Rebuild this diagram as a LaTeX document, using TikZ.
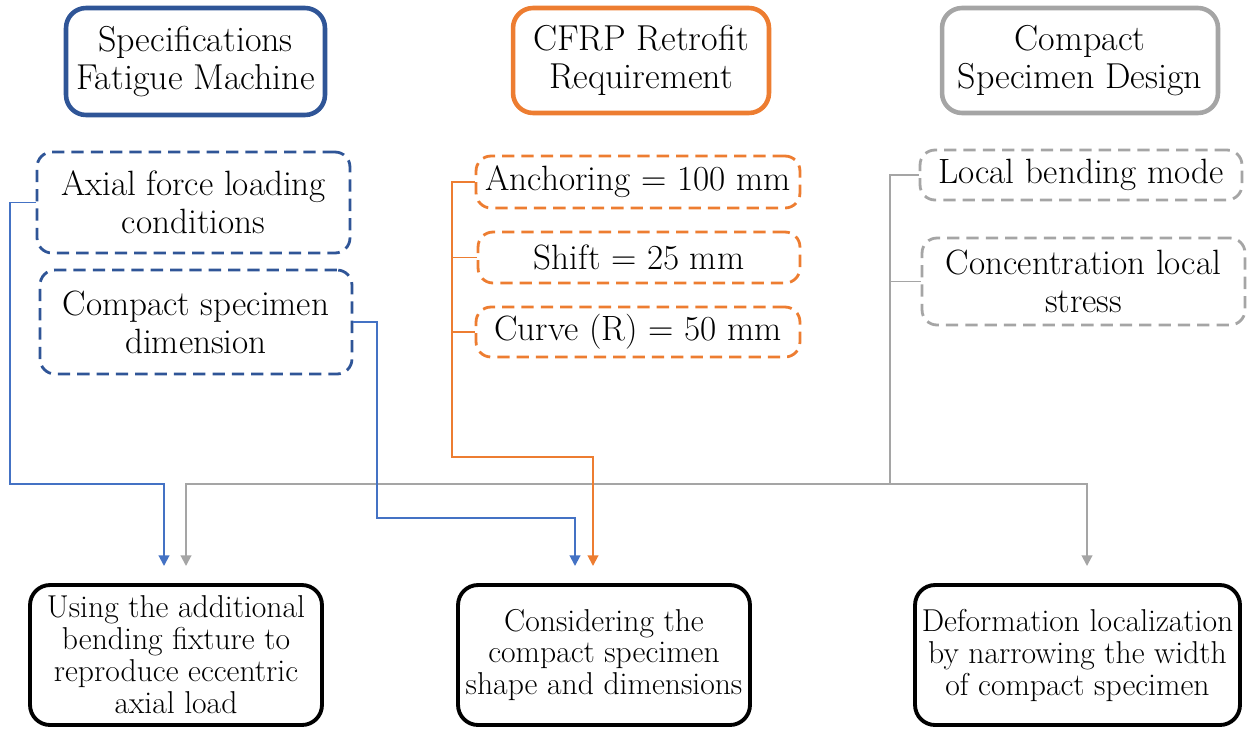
\documentclass[tikz,border=0pt]{standalone}
\usepackage{tikz}
\usetikzlibrary{positioning, calc, arrows.meta}

\definecolor{hdblue}{HTML}{2F5597}
\definecolor{wireblue}{HTML}{4472C4}
\definecolor{cfrporange}{HTML}{ED7D31}
\definecolor{specgray}{HTML}{A5A5A5}

\tikzset{
    header/.style={draw, rounded corners=0.4cm, line width=2.6pt, align=center,
        font=\fontsize{20.5}{21.6}\selectfont, inner sep=0pt},
    reqbox/.style={draw, dash pattern=on 7pt off 4pt, rounded corners=0.3cm,
        line width=1.6pt, align=center, font=\fontsize{20}{21.6}\selectfont, inner sep=0pt},
    outcome/.style={draw=black, rounded corners=0.4cm, line width=2.2pt, align=center,
        font=\fontsize{18}{18.2}\selectfont, inner sep=0pt,
        minimum height=2.8cm},
    wire/.style={line width=1.1pt},
    tip/.style={-{Triangle[width=6pt,length=6pt]}}
}

\begin{document}
\begin{tikzpicture}[x=0.02cm, y=-0.02cm]
    \useasboundingbox (0,0) rectangle (1256,731);

    % headers
    \node[header, draw=hdblue, minimum width=5.18cm, minimum height=2.14cm]
        (machine) at (195.5,61.5) {Specifications\\Fatigue Machine};
    \node[header, draw=cfrporange, minimum width=5.12cm, minimum height=2.1cm]
        (retrofit) at (641,60.5) {CFRP Retrofit\\Requirement};
    \node[header, draw=specgray, minimum width=5.52cm, minimum height=2.1cm]
        (design) at (1080,60.5) {Compact\\Specimen Design};

    % machine requirements
    \node[reqbox, draw=hdblue, minimum width=6.26cm, minimum height=2.02cm]
        (axial) at (193.5,202.5) {Axial force loading\\conditions};
    \node[reqbox, draw=hdblue, minimum width=6.24cm, minimum height=2.08cm]
        (dimension) at (196,322) {Compact specimen\\dimension};

    % retrofit requirements
    \node[reqbox, draw=cfrporange, minimum width=6.48cm, minimum height=1.04cm]
        (anchoring) at (638,182) {Anchoring = 100 mm};
    \node[reqbox, draw=cfrporange, minimum width=6.44cm, minimum height=1.02cm]
        (shift) at (639,257.5) {Shift = 25 mm};
    \node[reqbox, draw=cfrporange, minimum width=6.48cm, minimum height=1.0cm]
        (curve) at (638,332) {Curve (R) = 50 mm};

    % design requirements
    \node[reqbox, draw=specgray, minimum width=6.44cm, minimum height=1.0cm]
        (bending) at (1081,175) {Local bending mode};
    \node[reqbox, draw=specgray, minimum width=6.46cm, minimum height=1.74cm]
        (stress) at (1083.5,281.5) {Concentration local\\stress};

    % outcomes
    \node[outcome, minimum width=5.84cm] (fixture) at (176,655)
        {Using the additional\\bending fixture to\\reproduce eccentric\\axial load};
    \node[outcome, minimum width=5.84cm] (shape) at (604,655)
        {Considering the\\compact specimen\\shape and dimensions};
    \node[outcome, minimum width=6.5cm] (narrow) at (1077.5,655)
        {Deformation localization\\by narrowing the width\\of compact specimen};

    % junctions and arrow ends
    \coordinate (grayjoin) at (890,484);
    \coordinate (orangejoin) at (452,457);
    \coordinate (fixtureblue) at (164,566);
    \coordinate (fixturegray) at (186,566);
    \coordinate (shapeblue) at (575,566);
    \coordinate (shapeorange) at (593,566);
    \coordinate (narrowgray) at (1087,566);

    % gray connectors
    \draw[wire, specgray] (bending.west) -| (grayjoin);
    \draw[wire, specgray] (stress.west) -- (stress.west -| grayjoin);
    \draw[wire, specgray, tip] (grayjoin) -| (fixturegray);
    \draw[wire, specgray, tip] (grayjoin) -| (narrowgray);

    % blue connectors
    \draw[wire, wireblue, tip] (axial.west) -- (10,202.5) |- (164,484) -- (fixtureblue);
    \draw[wire, wireblue, tip] (dimension.east) -- (377,322) |- (575,518) -- (shapeblue);

    % orange connectors
    \draw[wire, cfrporange, tip] (anchoring.west) -| (orangejoin) -| (shapeorange);
    \draw[wire, cfrporange] (shift.west) -- (shift.west -| orangejoin);
    \draw[wire, cfrporange] (curve.west) -- (curve.west -| orangejoin);
\end{tikzpicture}
\end{document}
